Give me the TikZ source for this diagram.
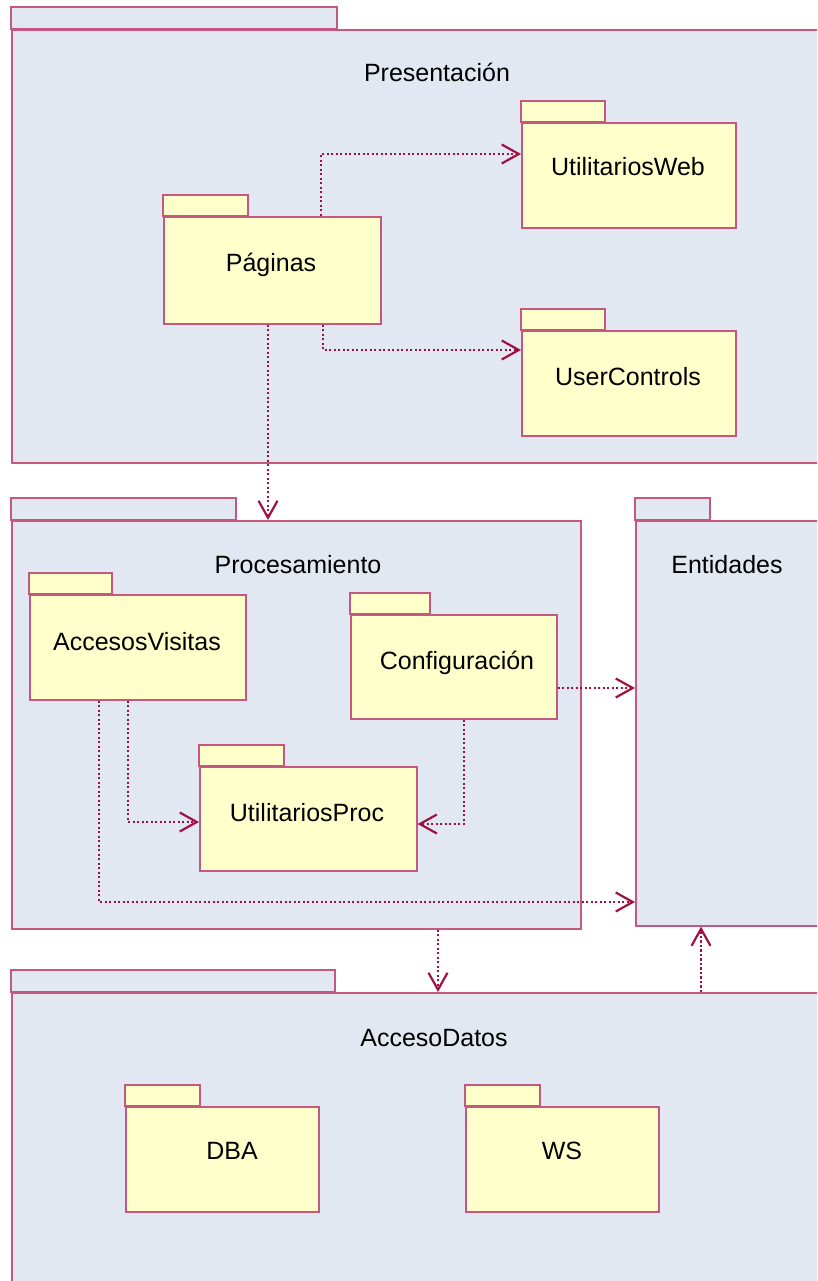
\documentclass[tikz,border=0pt]{standalone}
\usepackage{fontspec}
\setmainfont{Liberation Sans}
\usetikzlibrary{arrows.meta,calc}
\definecolor{pkgblue}{RGB}{226,232,242}
\definecolor{pkgyellow}{RGB}{255,255,204}
\definecolor{pkgborder}{RGB}{196,88,128}
\definecolor{deparrow}{RGB}{162,16,66}
\tikzset{
  x=1pt, y=-1pt,
  outerpkg/.style={draw=pkgborder, fill=pkgblue, line width=1.6pt, inner sep=0pt, anchor=north west},
  innerpkg/.style={draw=pkgborder, fill=pkgyellow, line width=1.6pt, inner sep=0pt, anchor=north west},
  pkglabel/.style={anchor=base, inner sep=0pt, font=\fontsize{25}{29}\selectfont, text=black},
  dep/.style={draw=deparrow, line width=2.3pt, dash pattern=on 2.3pt off 2.2pt,
    -{Straight Barb[length=17pt,width=19pt,line width=2.2pt]}},
}
\newcommand{\pkgtab}[4]{% style, body node, tab width, tab height
  \draw[#1] (#2.north west) rectangle ++(#3,-#4);}
\begin{document}
\begin{tikzpicture}
\useasboundingbox (0,0) rectangle (817,1281);
\clip (0,0) rectangle (817,1281);
\fill[white] (0,0) rectangle (817,1281);

% ---- outer packages ----
\node[outerpkg, minimum width=830, minimum height=433] (pres) at (11,29) {};
\pkgtab{outerpkg}{pres}{326}{22}
\node[pkglabel] (presl) at (437,82) {Presentación};

\node[outerpkg, minimum width=569, minimum height=408] (proc) at (11,520) {};
\pkgtab{outerpkg}{proc}{225}{22}
\node[pkglabel] (procl) at (298,573) {Procesamiento};

\node[outerpkg, minimum width=200, minimum height=405] (ent) at (635,520) {};
\pkgtab{outerpkg}{ent}{75}{22}
\node[pkglabel] (entl) at (727,573) {Entidades};

\node[outerpkg, minimum width=830, minimum height=300] (ad) at (11,992) {};
\pkgtab{outerpkg}{ad}{324}{22}
\node[pkglabel] (adl) at (434,1046) {AccesoDatos};

% ---- inner packages ----
\node[innerpkg, minimum width=217, minimum height=107] (pag) at (163,216) {};
\pkgtab{innerpkg}{pag}{85}{21}
\node[pkglabel] (pagl) at (271,271) {Páginas};

\node[innerpkg, minimum width=214, minimum height=105] (uweb) at (521,122) {};
\pkgtab{innerpkg}{uweb}{84}{21}
\node[pkglabel] (uwebl) at (628,176) {UtilitariosWeb};

\node[innerpkg, minimum width=214, minimum height=105] (uctl) at (521,330) {};
\pkgtab{innerpkg}{uctl}{84}{21}
\node[pkglabel] (uctll) at (628,385) {UserControls};

\node[innerpkg, minimum width=216, minimum height=105] (accv) at (29,594) {};
\pkgtab{innerpkg}{accv}{83}{21}
\node[pkglabel] (accvl) at (137,650) {AccesosVisitas};

\node[innerpkg, minimum width=206, minimum height=104] (conf) at (350,614) {};
\pkgtab{innerpkg}{conf}{80}{21}
\node[pkglabel] (confl) at (457,669) {Configuración};

\node[innerpkg, minimum width=217, minimum height=104] (uproc) at (199,766) {};
\pkgtab{innerpkg}{uproc}{85}{21}
\node[pkglabel] (uprocl) at (307,821) {UtilitariosProc};

\node[innerpkg, minimum width=193, minimum height=105] (dba) at (125,1106) {};
\pkgtab{innerpkg}{dba}{75}{21}
\node[pkglabel] (dbal) at (232,1159) {DBA};

\node[innerpkg, minimum width=193, minimum height=105] (ws) at (465,1106) {};
\pkgtab{innerpkg}{ws}{75}{21}
\node[pkglabel] (wsl) at (562,1159) {WS};

% ---- dependencies ----
\draw[dep] ($(pag.north west)+(158,0)$) |- ($(uweb.north west)+(0,32)$);
\draw[dep] ($(pag.south west)+(160,0)$) |- ($(uctl.north west)+(0,20)$);
\draw[dep] ($(pag.south west)+(105,0)$) -- ($(proc.north west)+(257,0)$);
\draw[dep] ($(accv.south west)+(99,0)$) |- ($(uproc.north west)+(0,56)$);
\draw[dep] ($(conf.south west)+(114,0)$) |- ($(uproc.north east)+(0,58)$);
\draw[dep] ($(accv.south west)+(70,0)$) |- ($(ent.north west)+(0,382)$);
\draw[dep] ($(conf.north east)+(0,74)$) -- ($(ent.north west)+(0,168)$);
\draw[dep] ($(proc.south west)+(427,0)$) -- ($(ad.north west)+(427,0)$);
\draw[dep] ($(ad.north west)+(690,0)$) -- ($(ent.south west)+(66,0)$);
\end{tikzpicture}
\end{document}
